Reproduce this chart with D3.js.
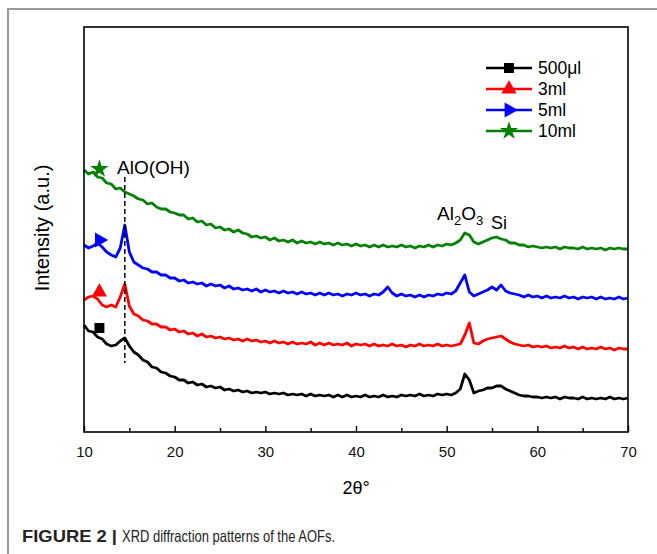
<!DOCTYPE html>
<html><head><meta charset="utf-8">
<script src="https://cdn.jsdelivr.net/npm/d3@7"></script>
<style>body{margin:0;background:#fff;} text{font-family:"Liberation Sans",Arial,sans-serif;}</style>
</head><body><svg id="c" width="657" height="554"></svg>
<script>
const angles = [10,10.5,11,11.5,12,12.5,13,13.5,14,14.5,15,15.5,16,16.5,17,17.5,18,18.5,19,19.5,20,20.5,21,21.5,22,22.5,23,23.5,24,24.5,25,25.5,26,26.5,27,27.5,28,28.5,29,29.5,30,30.5,31,31.5,32,32.5,33,33.5,34,34.5,35,35.5,36,36.5,37,37.5,38,38.5,39,39.5,40,40.5,41,41.5,42,42.5,43,43.5,44,44.5,45,45.5,46,46.5,47,47.5,48,48.5,49,49.5,50,50.5,51,51.5,52,52.5,53,53.5,54,54.5,55,55.5,56,56.5,57,57.5,58,58.5,59,59.5,60,60.5,61,61.5,62,62.5,63,63.5,64,64.5,65,65.5,66,66.5,67,67.5,68,68.5,69,69.5,70];

const s500ul = [107,101,100,95,93,88,86,87,91,94, 86,80,77,72,70,65,64,60,59,56, 55,52,52,49,50,47,48,45,46,44, 45,42,43,41,42,40,41,39,40,39, 40,38,39,38,39,37,38,37,38,36, 38,36,37,36,37,35,37,35,37,35, 36,35,37,35,36,35,37,35,36,35, 37,36,37,36,38,36,37,36,38,37, 38,37,39,43,58,52,39,41,42,44, 44,46,46,43,41,39,37,36,36,35, 35,34,35,34,35,33,35,34,34,33, 35,33,34,33,34,33,35,33,34,33, 34];
const s3ml = [132,135,136,133,127,125,127,125,135,148, 126,118,116,112,111,108,108,105,105,102, 103,100,101,98,99,96,98,95,96,94, 95,93,94,92,93,91,93,91,92,90, 91,89,91,89,90,88,90,88,89,88, 90,87,89,87,89,87,88,87,89,86, 88,87,88,86,88,86,87,86,88,86, 87,85,87,86,88,86,87,86,88,86, 87,86,87,88,97,109,89,88,91,93, 94,95,96,93,90,88,87,86,87,85, 86,85,86,84,85,84,86,84,85,83, 85,83,84,83,85,83,84,82,84,83, 83];
const s5ml = [187,184,186,189,185,180,177,175,184,207, 180,170,167,164,163,160,160,157,157,154, 154,151,152,149,150,148,149,146,148,146, 147,144,146,143,144,142,143,141,143,140, 142,140,141,139,141,139,140,138,140,138, 139,137,139,137,139,137,138,136,138,137, 139,137,138,136,138,137,140,145,139,136, 138,136,137,135,137,135,137,136,138,137, 139,138,141,149,157,140,136,138,140,142, 145,142,147,141,139,138,137,135,137,135, 136,134,136,134,135,134,136,134,135,133, 135,134,135,133,135,133,134,133,135,133, 134];
const s10ml = [262,258,260,255,254,249,248,243,244,240, 238,236,233,232,228,229,225,223,223,220, 219,217,217,213,214,210,211,207,208,204, 205,202,203,200,202,199,198,195,196,194, 195,192,194,191,192,190,192,189,191,189, 190,188,190,188,189,187,189,187,188,186, 188,186,187,185,187,185,187,185,186,185, 187,185,186,184,186,185,187,185,187,186, 188,187,189,192,199,197,190,188,190,192, 194,195,193,192,189,189,187,187,185,186, 185,184,185,184,185,183,185,184,184,183, 185,183,184,183,184,182,184,183,184,183, 183];

const seriesNames = ["500\u03bcl","3ml","5ml","10ml"];
const seriesColors = ["#000000","#ff0000","#0000ff","#008000"];
const seriesSymbols = ["square","triangleUp","triangleRight","star"];
const markerAngle = 11.7;
const markerValues = [104,140,192,263];

const xTicks = [10,20,30,40,50,60,70];
const xMinorTicks = [15,25,35,45,55,65];
const alohAngle = 14.5;
const alohDash = [255,69];

const W=657,H=554;
const m={l:84,r:628,t:27,b:432};
const svg=d3.select("#c");
svg.append("rect").attr("width",W).attr("height",H).attr("fill","#fff");
// outer figure frame
svg.append("path").attr("d","M8,554 L8,9 L657,9").attr("fill","none").attr("stroke","#9a9a9a").attr("stroke-width",2);

const x=d3.scaleLinear().domain([10,70]).range([m.l,m.r]);
const y=d3.scaleLinear().domain([0,405]).range([m.b,m.t]);

const allSeries=[s500ul,s3ml,s5ml,s10ml];
const line=d3.line().x((d,i)=>x(angles[i])).y(d=>y(d));
const g=svg.append("g");
allSeries.forEach((s,k)=>{
  g.append("path").datum(s).attr("d",line).attr("fill","none")
   .attr("stroke",seriesColors[k]).attr("stroke-width",2.8).attr("stroke-linejoin","round");
});

function symPath(name,size){
  if(name==="square") return d3.symbol(d3.symbolSquare,size)();
  if(name==="triangleUp") return d3.symbol(d3.symbolTriangle,size)();
  if(name==="triangleRight") return d3.symbol(d3.symbolTriangle,size)();
  if(name==="star") return d3.symbol(d3.symbolStar,size)();
}
function drawSym(parent,name,cx,cy,color,size){
  const p=parent.append("path").attr("d",symPath(name,size)).attr("fill",color);
  let tr=`translate(${cx},${cy})`;
  if(name==="triangleRight") tr+=" rotate(90)";
  p.attr("transform",tr);
}
allSeries.forEach((s,k)=>{
  drawSym(g,seriesSymbols[k],x(markerAngle),y(markerValues[k]),seriesColors[k],seriesSymbols[k]==="star"?105:100);
});

// dashed AlO(OH) line
svg.append("line").attr("x1",x(alohAngle)).attr("x2",x(alohAngle))
  .attr("y1",y(alohDash[0])).attr("y2",y(alohDash[1]))
  .attr("stroke","#000").attr("stroke-width",1.5).attr("stroke-dasharray","5,3");

svg.append("text").attr("x",117).attr("y",174).attr("font-size",19).text("AlO(OH)");
const al=svg.append("text").attr("x",437).attr("y",220).attr("font-size",19);
al.append("tspan").text("Al");
al.append("tspan").attr("dy",5).attr("font-size",13).text("2");
al.append("tspan").attr("dy",-5).text("O");
al.append("tspan").attr("dy",5).attr("font-size",13).text("3");
svg.append("text").attr("x",491).attr("y",229).attr("font-size",18).text("Si");

// frame
svg.append("rect").attr("x",m.l).attr("y",m.t).attr("width",m.r-m.l).attr("height",m.b-m.t)
  .attr("fill","none").attr("stroke","#000").attr("stroke-width",1.6);

const ax=svg.append("g").attr("transform",`translate(0,${m.b})`)
  .call(d3.axisBottom(x).tickValues(xTicks).tickSize(-6).tickPadding(14).tickFormat(d3.format("d")));
ax.select(".domain").remove();
ax.selectAll("line").attr("stroke-width",1.4);
ax.selectAll("text").attr("font-size",15).attr("font-family","Liberation Sans, Arial").attr("fill","#111");
const axm=svg.append("g").attr("transform",`translate(0,${m.b})`)
  .call(d3.axisBottom(x).tickValues(xMinorTicks).tickSize(-4).tickFormat(""));
axm.select(".domain").remove();
axm.selectAll("line").attr("stroke-width",1.4);

svg.append("text").attr("x",356).attr("y",494).attr("text-anchor","middle").attr("font-size",18).text("2\u03b8\u00b0");
svg.append("text").attr("transform","translate(49,228) rotate(-90)").attr("text-anchor","middle").attr("font-size",20).text("Intensity (a.u.)");

// legend
const lg=svg.append("g");
const rows=[68,89,110,131];
seriesNames.forEach((n,k)=>{
  lg.append("line").attr("x1",486).attr("x2",532).attr("y1",rows[k]).attr("y2",rows[k]).attr("stroke",seriesColors[k]).attr("stroke-width",2.6);
  drawSym(lg,seriesSymbols[k],509,rows[k],seriesColors[k],seriesSymbols[k]==="star"?105:100);
  lg.append("text").attr("x",538).attr("y",rows[k]+6).attr("font-size",17.5).text(n);
});

// caption
svg.append("text").attr("x",22).attr("y",542).attr("font-size",16.5).attr("font-weight","bold")
  .attr("textLength",95).attr("lengthAdjust","spacingAndGlyphs").attr("fill","#222").text("FIGURE 2 |");
svg.append("text").attr("x",122).attr("y",542).attr("font-size",16.5)
  .attr("textLength",213).attr("lengthAdjust","spacingAndGlyphs").attr("fill","#222").text("XRD diffraction patterns of the AOFs.");
</script></body></html>
